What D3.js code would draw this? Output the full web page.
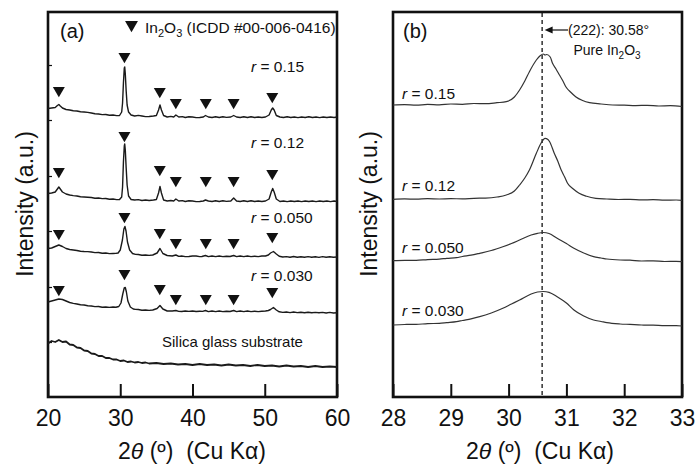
<!DOCTYPE html>
<html>
<head>
<meta charset="utf-8">
<script src="https://cdn.jsdelivr.net/npm/d3@7"></script>
<style>
  body { margin: 0; background: #fff; }
  svg { display: block; font-family: "Liberation Sans", Arial, Helvetica, sans-serif; }
</style>
</head>
<body>
<svg id="chart" width="696" height="464"></svg>
<script>
// ---------------- data ----------------
// Wide-range XRD patterns, [2theta (deg), intensity (a.u., stacked)]
const patR015 = [[20,288.5],[20.5,289],[21,289.5],[21.3,291.5],[21.5,292.5],[21.7,291],[22,289],[22.5,287.5],[23,287],[23.5,286.2],[24,286],[24.5,285.2],[25,285],[25.5,284.6],[26,284],[26.5,283.2],[27,283],[27.5,282.4],[28,282.5],[28.5,281.8],[29,282],[29.5,281.4],[29.9,281.5],[30.2,285],[30.32,294],[30.44,314],[30.56,329],[30.62,330],[30.7,323],[30.82,306],[30.95,292],[31.15,285],[31.5,282],[32,281],[32.5,281.6],[33,281],[33.5,280.4],[34,280.5],[34.6,281],[35,281.5],[35.3,287],[35.5,292],[35.7,287],[36,281.5],[36.5,280],[37,280.6],[37.4,280],[37.7,282],[38.1,280],[38.6,280.4],[39,279.5],[39.5,280.2],[40,280],[40.5,279.4],[41,279.5],[41.5,280],[41.8,281.5],[42.2,280],[42.7,279.5],[43.2,280.2],[43.7,279.5],[44.2,280.2],[44.7,279.6],[45.3,280],[45.7,281.5],[46.1,280],[46.6,279.5],[47.1,280.2],[47.6,279.5],[48.1,280.2],[48.6,279.5],[49.1,280],[49.6,279.5],[50.1,280],[50.6,282],[50.9,287],[51.1,289],[51.3,287],[51.6,281.5],[52.1,280],[52.6,279.5],[53.1,280.2],[53.6,279.5],[54.1,280],[54.6,279.4],[55.1,280],[55.6,279.5],[56.1,280.2],[56.6,279.5],[57.1,280],[57.6,279.4],[58.1,280],[58.6,279.5],[59.1,280],[59.6,279.5],[60,280]];
const patR012 = [[20,203.5],[20.5,204],[21,205],[21.3,208],[21.5,210],[21.7,208],[22,205],[22.5,203],[23,202],[23.5,201.4],[24,201],[24.5,200.2],[25,200],[25.5,199.8],[26,199.5],[26.5,198.8],[27,199],[27.5,198.4],[28,198.5],[28.5,197.8],[29,198],[29.5,197.4],[29.9,197.5],[30.2,200],[30.32,210],[30.44,235],[30.56,251],[30.62,253],[30.7,247],[30.82,229],[30.95,212],[31.15,201],[31.5,197.5],[32,197],[32.5,197.4],[33,196.5],[33.5,197],[34,196.5],[34.6,197],[35,197.5],[35.3,204],[35.5,210.5],[35.7,204],[36,197],[36.5,196],[37,196.5],[37.4,196],[37.7,198],[38.1,196],[38.6,196.4],[39,195.5],[39.5,196.2],[40,196],[40.5,195.4],[41,195.5],[41.5,196],[41.8,197],[42.2,196],[42.7,195.5],[43.2,196.2],[43.7,195.5],[44.2,196.2],[44.7,195.6],[45.3,196],[45.7,199],[46.1,196],[46.6,195.5],[47.1,196.2],[47.6,195.5],[48.1,196.2],[48.6,195.5],[49.1,196],[49.6,195.5],[50.1,196],[50.6,198],[50.9,205],[51.1,208.5],[51.3,205],[51.6,198],[52.1,195.5],[52.6,196],[53.1,195.4],[53.6,196],[54.1,195.5],[54.6,196],[55.1,195.4],[55.6,196],[56.1,195.5],[56.6,196],[57.1,195.4],[57.6,196],[58.1,195.5],[58.6,196],[59.1,195.4],[59.6,196],[60,195.5]];
const patR050 = [[20,148.5],[20.5,149],[21,150.5],[21.5,152],[22,150.5],[22.5,148.5],[23,147.5],[23.5,147],[24,146.5],[24.5,145.8],[25,145.5],[25.5,145.4],[26,145],[26.5,144.4],[27,144.5],[27.5,143.8],[28,144],[28.5,143.4],[29,143.5],[29.4,143.6],[29.7,144],[30,147],[30.3,157],[30.5,168],[30.65,170.5],[30.8,166],[31,155],[31.3,147],[31.7,143.5],[32.1,142.6],[32.5,142.5],[33,141.8],[33.5,142],[34,141.6],[34.5,142],[35.1,144],[35.5,148.5],[35.9,143.5],[36.5,141.5],[37.2,141],[37.7,142],[38.1,140.6],[38.5,141],[39,140.4],[39.5,140.5],[40,141],[40.5,141],[41,140.4],[41.3,140.5],[41.8,141.5],[42.2,140.4],[42.7,141],[43.2,140.4],[43.7,141],[44.2,140.4],[44.7,140.8],[45.2,140.5],[45.7,141.5],[46.1,140.4],[46.6,141],[47.1,140.4],[47.6,141],[48.1,140.4],[48.6,140.8],[49.1,140.4],[49.6,141],[50.1,141],[50.5,142],[50.8,144],[51.2,145.5],[51.6,143],[52,140.8],[52.5,140],[53,140.4],[53.5,139.8],[54,140.5],[54.5,139.8],[55,140.2],[55.5,139.8],[56,140.4],[56.5,139.8],[57,140.2],[57.5,139.6],[58,140.4],[58.5,139.8],[59,140.2],[59.5,139.8],[60,140]];
const patR030 = [[20,95],[20.5,96],[21,97],[21.5,98],[22,97.5],[22.5,96],[23,94.5],[23.5,93.6],[24,93],[24.5,92.2],[25,92],[25.5,91.2],[26,91],[26.5,90.4],[27,90.5],[27.5,89.8],[28,90],[28.5,89.6],[29,90],[29.4,89.8],[29.8,90.5],[30.1,94],[30.35,103],[30.55,109],[30.7,109.5],[30.85,105],[31.05,96],[31.4,90],[31.8,88],[32.1,87.6],[32.5,87.5],[33,86.8],[33.5,87],[34,86.6],[34.5,87],[35.1,88.5],[35.5,91.5],[35.9,88],[36.5,86],[37.2,86],[37.7,86.5],[38.1,85.6],[38.5,85.5],[39,86],[39.5,85.6],[40,86],[40.5,85.5],[41,85.8],[41.4,85.6],[41.8,86.5],[42.2,85.4],[42.7,86],[43.2,85.4],[43.7,86],[44.2,85.4],[44.7,85.8],[45.2,85.5],[45.7,86.5],[46.1,85.4],[46.6,86],[47.1,85.4],[47.6,86],[48.1,85.4],[48.6,85.8],[49.1,85.4],[49.6,85.8],[50.1,86],[50.5,86.5],[50.8,87.5],[51.2,89.5],[51.6,87],[52,85.2],[52.5,84.6],[53,85],[53.5,84.4],[54,85],[54.5,84.4],[55,84.8],[55.5,84.2],[56,84.8],[56.5,84.2],[57,84.6],[57.5,84.2],[58,84.6],[58.5,84],[59,84.6],[59.5,84],[60,84.2]];
const patSilica = [[20,53.5],[20.5,56],[21,55],[21.5,57],[22,55],[22.5,55.5],[23,52.5],[23.5,52],[24,49.5],[24.5,49],[25,46.5],[25.5,46],[26,43.5],[26.5,43],[27,41],[27.5,41],[28,39],[28.5,39],[29,37.5],[29.5,37.5],[30,36],[30.5,36.5],[31,35],[31.5,35.5],[32,34.5],[32.5,35],[33,34],[33.5,34.5],[34,33.5],[35,34],[36,33],[37,33.5],[38,32.5],[39,33],[40,32],[41,33],[42,32],[43,32.5],[44,31.5],[45,32.5],[46,31.5],[47,32],[48,31],[49,32],[50,31],[51,31.5],[52,30.5],[53,31.5],[54,30.5],[55,31],[56,30],[57,31],[58,30],[59,30.5],[60,30]];

// (222) reflection region, [2theta (deg), intensity (a.u., stacked)]
const zoomR015 = [[28,292],[28.2,292.4],[28.4,291.8],[28.6,292.6],[28.8,292.2],[29,293],[29.2,292.7],[29.4,293.5],[29.6,293.3],[29.8,294.3],[29.96,295.3],[30.1,300],[30.19,307],[30.28,316],[30.36,325.3],[30.48,337],[30.55,341.5],[30.6,343],[30.63,342],[30.66,342.5],[30.72,340],[30.76,333.7],[30.82,328],[30.88,322],[30.94,316],[30.99,310.3],[31.08,304.5],[31.16,300.3],[31.28,296.5],[31.4,294.3],[31.6,293],[31.8,292],[32,291.8],[32.2,291.4],[32.4,291.7],[32.6,291],[32.8,291.3],[33,290.5]];
const zoomR012 = [[28,197.7],[28.2,198.1],[28.4,197.8],[28.6,198.3],[28.8,198],[29,198.3],[29.2,198.2],[29.4,198.7],[29.6,198.9],[29.8,200],[29.96,202],[30.1,206],[30.19,212],[30.28,219],[30.36,227],[30.48,243.7],[30.56,253.7],[30.63,258.7],[30.68,257.5],[30.71,255.3],[30.79,243.7],[30.85,236],[30.91,227],[30.97,220],[31.02,213.7],[31.12,208],[31.22,203.7],[31.35,200.7],[31.51,198.7],[31.7,198],[31.9,197.5],[32.1,197.6],[32.3,197.1],[32.5,197.3],[32.7,196.8],[32.9,197],[33,196.7]];
const zoomR050 = [[28,136.3],[28.2,136.7],[28.4,136.6],[28.6,137.4],[28.8,137.8],[28.93,138.7],[29.1,139.4],[29.2,140.5],[29.35,141.8],[29.5,143.7],[29.7,146.5],[29.9,150.3],[30.05,153.5],[30.19,157],[30.39,162],[30.5,163.7],[30.6,164.5],[30.7,163.5],[30.84,158.7],[31,153.5],[31.13,148.7],[31.3,144],[31.47,140.3],[31.6,139],[31.7,138],[31.93,137],[32.1,136.8],[32.3,136],[32.5,136.2],[32.7,135.5],[32.9,135.7],[33,135.3]];
const zoomR030 = [[28,72],[28.2,72.5],[28.4,72.6],[28.6,73.4],[28.8,73.6],[28.93,74.3],[29.1,75.3],[29.2,76.5],[29.35,78.2],[29.5,80.3],[29.7,84],[29.9,88.7],[30.05,93],[30.19,97],[30.39,103],[30.5,105],[30.6,105.5],[30.7,104.7],[30.84,100.3],[31,94],[31.13,87],[31.3,81],[31.47,77],[31.6,75.5],[31.7,74.3],[31.93,73],[32.1,72.6],[32.3,72],[32.5,71.9],[32.7,71.3],[32.9,71.4],[33,71]];

// In2O3 reflections (ICDD #00-006-0416) and the level of each peak marker per sample
const peakAngles = [21.5, 30.58, 35.47, 37.69, 41.84, 45.69, 51.04];
const markR015 = [310, 344, 309, 298, 298, 298, 304];
const markR012 = [229, 265, 231, 220, 220, 220, 227];
const markR050 = [167, 184, 168, 158, 158, 158, 164];
const markR030 = [111, 127, 112, 102, 102, 102, 109];

const ratios = ["0.15", "0.12", "0.050", "0.030"];
const ticksA = [20, 30, 40, 50, 60];
const ticksB = [28, 29, 30, 31, 32, 33];
const leftTicksA = [55, 110, 166, 221, 277, 332];
const pureAngle = 30.58;

// ---------------- drawing ----------------
const svg = d3.select("#chart");
const ink = "#111";

const plotTop = 12, plotBottom = 397;
const y = d3.scaleLinear().domain([0, 385]).range([plotBottom, plotTop]);
const xA = d3.scaleLinear().domain([20, 60]).range([48, 337]);
const xB = d3.scaleLinear().domain([28, 33]).range([393, 682]);

function frame(x, ticks) {
  const g = svg.append("g");
  // bottom axis: inward ticks, large labels
  const ax = g.append("g").attr("transform", `translate(0,${plotBottom})`)
    .call(d3.axisBottom(x).tickValues(ticks)
      .tickSizeInner(-13).tickSizeOuter(0).tickPadding(13).tickFormat(d3.format("d")));
  ax.select(".domain").remove();
  ax.selectAll(".tick line").attr("stroke", ink).attr("stroke-width", 2);
  ax.selectAll(".tick text").attr("fill", ink).attr("font-size", 23)
    .attr("font-family", '"Liberation Sans", Arial, sans-serif');
  const [x0, x1] = x.range();
  g.append("rect").attr("x", x0).attr("y", plotTop).attr("width", x1 - x0).attr("height", plotBottom - plotTop)
    .attr("fill", "none").attr("stroke", ink).attr("stroke-width", 2.6);
  return g;
}

function axisTitles(cx, yTitleX) {
  const t = svg.append("text").attr("x", cx).attr("y", 459).attr("text-anchor", "middle")
    .attr("font-size", 23).attr("fill", ink);
  t.append("tspan").text("2");
  t.append("tspan").attr("font-style", "italic").text("θ");
  t.append("tspan").text(" (º)\u00a0\u00a0(Cu Kα)");
  svg.append("text").attr("transform", `translate(${yTitleX},204) rotate(-90)`)
    .attr("text-anchor", "middle").attr("font-size", 23).attr("fill", ink)
    .text("Intensity (a.u.)");
}

function ratioLabel(x, yb, r) {
  const t = svg.append("text").attr("x", x).attr("y", yb).attr("font-size", 15.5).attr("fill", ink);
  t.append("tspan").attr("font-style", "italic").text("r");
  t.append("tspan").text(" = " + r);
}

// ----- panel (a) -----
frame(xA, ticksA);
const la = svg.append("g").attr("transform", `translate(${xA.range()[0]},0)`)
  .call(d3.axisRight(y).tickValues(leftTicksA).tickSize(4).tickFormat(""));
la.select(".domain").remove();
la.selectAll(".tick line").attr("stroke", ink).attr("stroke-width", 1.2);

const lineA = d3.line().x(d => xA(d[0])).y(d => y(d[1]));
[patR015, patR012, patR050, patR030].forEach(p => {
  svg.append("path").attr("d", lineA(p)).attr("fill", "none")
    .attr("stroke", "#1a1a1a").attr("stroke-width", 1.4).attr("stroke-linejoin", "round");
});
svg.append("path").attr("d", lineA(patSilica)).attr("fill", "none")
  .attr("stroke", "#1a1a1a").attr("stroke-width", 1.8).attr("stroke-linejoin", "round");

// peak markers
const tri = d3.symbol().type(d3.symbolTriangle).size(62)();
const triR = 12 / (2 * Math.sqrt(3));
[markR015, markR012, markR050, markR030].forEach(levels => {
  svg.append("g").selectAll("path").data(levels).join("path")
    .attr("d", tri).attr("fill", ink)
    .attr("transform", (d, i) => `translate(${xA(peakAngles[i])},${y(d) + triR}) rotate(180)`);
});

// legend
svg.append("path").attr("d", d3.symbol().type(d3.symbolTriangle).size(72)()).attr("fill", ink)
  .attr("transform", `translate(131.5,${21 + 13 / (2 * Math.sqrt(3))}) rotate(180)`);
const lg = svg.append("text").attr("x", 145).attr("y", 33).attr("font-size", 15.5).attr("fill", ink);
lg.append("tspan").text("In");
lg.append("tspan").attr("font-size", 11).attr("dy", 4).text("2");
lg.append("tspan").attr("dy", -4).text("O");
lg.append("tspan").attr("font-size", 11).attr("dy", 4).text("3");
lg.append("tspan").attr("dy", -4).text(" (ICDD #00-006-0416)");

svg.append("text").attr("x", 60).attr("y", 38).attr("font-size", 20).attr("fill", ink).text("(a)");

const labelYA = [72, 148, 223, 281];
ratios.forEach((r, i) => ratioLabel(251, labelYA[i], r));
svg.append("text").attr("x", 162).attr("y", 347).attr("font-size", 15).attr("fill", ink)
  .text("Silica glass substrate");

axisTitles(192, 33);

// ----- panel (b) -----
frame(xB, ticksB);
svg.append("line").attr("x1", xB(pureAngle)).attr("x2", xB(pureAngle))
  .attr("y1", plotTop + 1).attr("y2", plotBottom - 1)
  .attr("stroke", ink).attr("stroke-width", 1.3).attr("stroke-dasharray", "4,3");

const lineB = d3.line().curve(d3.curveMonotoneX).x(d => xB(d[0])).y(d => y(d[1]));
[zoomR015, zoomR012, zoomR050, zoomR030].forEach(p => {
  svg.append("path").attr("d", lineB(p)).attr("fill", "none")
    .attr("stroke", "#333").attr("stroke-width", 1.2);
});

const labelYB = [99, 191, 253, 316];
ratios.forEach((r, i) => ratioLabel(402, labelYB[i], r));

svg.append("text").attr("x", 403).attr("y", 38).attr("font-size", 20).attr("fill", ink).text("(b)");

// (222) reference arrow
const ax0 = xB(pureAngle) + 2.5;
svg.append("line").attr("x1", ax0 + 6).attr("x2", 568).attr("y1", 30).attr("y2", 30)
  .attr("stroke", ink).attr("stroke-width", 1.2);
svg.append("path").attr("d", `M${ax0},30 L${ax0 + 8},26.5 L${ax0 + 8},33.5 Z`).attr("fill", ink);
svg.append("text").attr("x", 568).attr("y", 35).attr("font-size", 14).attr("fill", ink)
  .text("(222): 30.58°");
const pu = svg.append("text").attr("x", 607).attr("y", 55).attr("text-anchor", "middle")
  .attr("font-size", 14).attr("fill", ink);
pu.append("tspan").text("Pure In");
pu.append("tspan").attr("font-size", 10).attr("dy", 3.5).text("2");
pu.append("tspan").attr("dy", -3.5).text("O");
pu.append("tspan").attr("font-size", 10).attr("dy", 3.5).text("3");

axisTitles(540, 377);
</script>
</body>
</html>
